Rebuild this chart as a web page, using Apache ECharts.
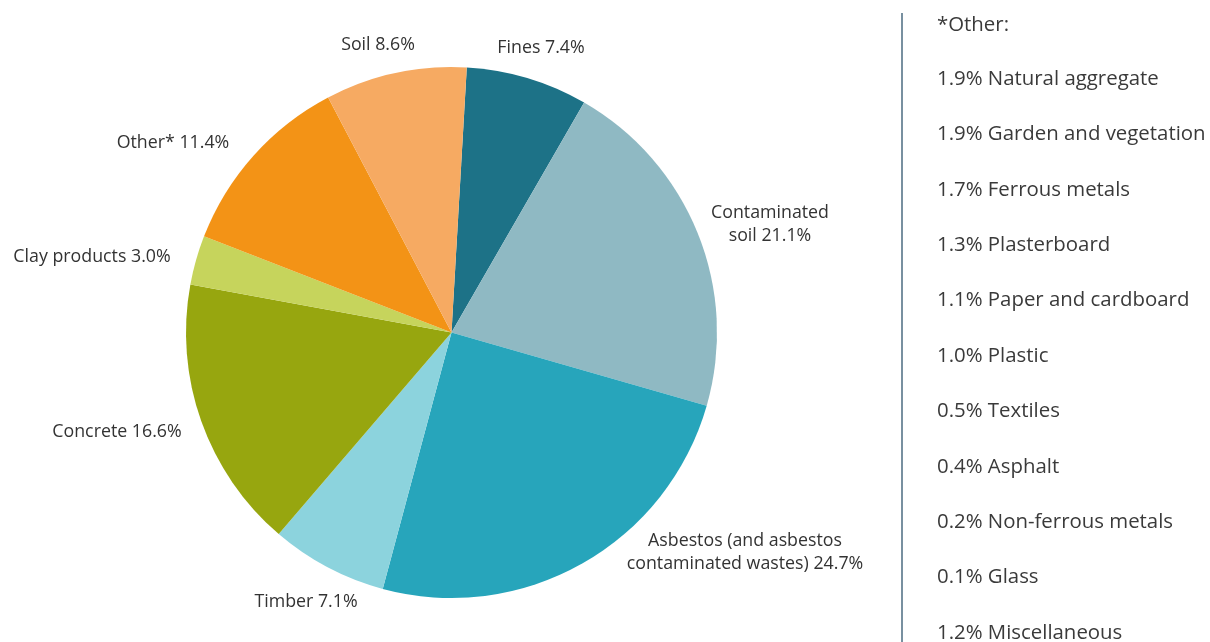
<!DOCTYPE html>
<html>
<head>
<meta charset="utf-8">
<script src="https://cdn.jsdelivr.net/npm/echarts@6/dist/echarts.min.js"></script>
<style>html,body{margin:0;padding:0;background:#fff;}#c{width:1210px;height:642px;}</style>
</head>
<body>
<div id="c"></div>
<script>
// ---- data ----
var categories = ['Fines', 'Contaminated\nsoil', 'Asbestos (and asbestos\ncontaminated wastes)', 'Timber', 'Concrete', 'Clay products', 'Other*', 'Soil'];
var values = [7.4, 21.1, 24.7, 7.1, 16.6, 3.0, 11.4, 8.6];
var otherTitle = '*Other:';
var otherNames = ['Natural aggregate', 'Garden and vegetation', 'Ferrous metals', 'Plasterboard', 'Paper and cardboard', 'Plastic', 'Textiles', 'Asphalt', 'Non-ferrous metals', 'Glass', 'Miscellaneous'];
var otherValues = [1.9, 1.9, 1.7, 1.3, 1.1, 1.0, 0.5, 0.4, 0.2, 0.1, 1.2];

// ---- styles / layout ----
var colors = ['#1d7287', '#8fb9c3', '#27a5bb', '#8cd3dd', '#97a60f', '#c6d45c', '#f39316', '#f6aa62'];
var labelPos = [[541, 48], [770, 224], [745, 552], [306, 602], [117, 432], [92, 257], [173, 143], [378, 45]];
var fontFamily = '"Open Sans", "Noto Sans", sans-serif';
var listFont = '20.4px ' + fontFamily;

var chart = echarts.init(document.getElementById('c'), null, {renderer: 'canvas'});

var graphics = [{
  type: 'line',
  shape: {x1: 902, y1: 13, x2: 902, y2: 642},
  style: {stroke: '#4b6b80', lineWidth: 1.5}
}, {
  type: 'text', x: 937, y: 25,
  style: {text: otherTitle, font: listFont, fill: '#3a3a3a', verticalAlign: 'middle'}
}];
otherNames.forEach(function (n, i) {
  graphics.push({
    type: 'text', x: 937, y: 79 + i * 55.4,
    style: {text: otherValues[i].toFixed(1) + '% ' + n, font: listFont, fill: '#3a3a3a', verticalAlign: 'middle'}
  });
});

chart.setOption({
  backgroundColor: '#fff',
  animation: false,
  graphic: graphics,
  series: [{
    type: 'pie',
    center: [451.5, 332.5],
    radius: 265.5,
    startAngle: 86.7,
    clockwise: true,
    avoidLabelOverlap: false,
    data: categories.map(function (c, i) {
      return {name: c, value: values[i], itemStyle: {color: colors[i]}};
    }),
    label: {
      show: true,
      position: 'outside',
      color: '#333',
      fontFamily: fontFamily,
      fontSize: 17.8,
      lineHeight: 23,
      align: 'center',
      formatter: function (p) { return p.name + ' ' + p.value.toFixed(1) + '%'; }
    },
    labelLine: {show: false},
    labelLayout: function (p) {
      var pos = labelPos[p.dataIndex];
      return {x: pos[0], y: pos[1], align: 'center', verticalAlign: 'middle'};
    },
    emphasis: {disabled: true}
  }]
});
</script>
</body>
</html>
